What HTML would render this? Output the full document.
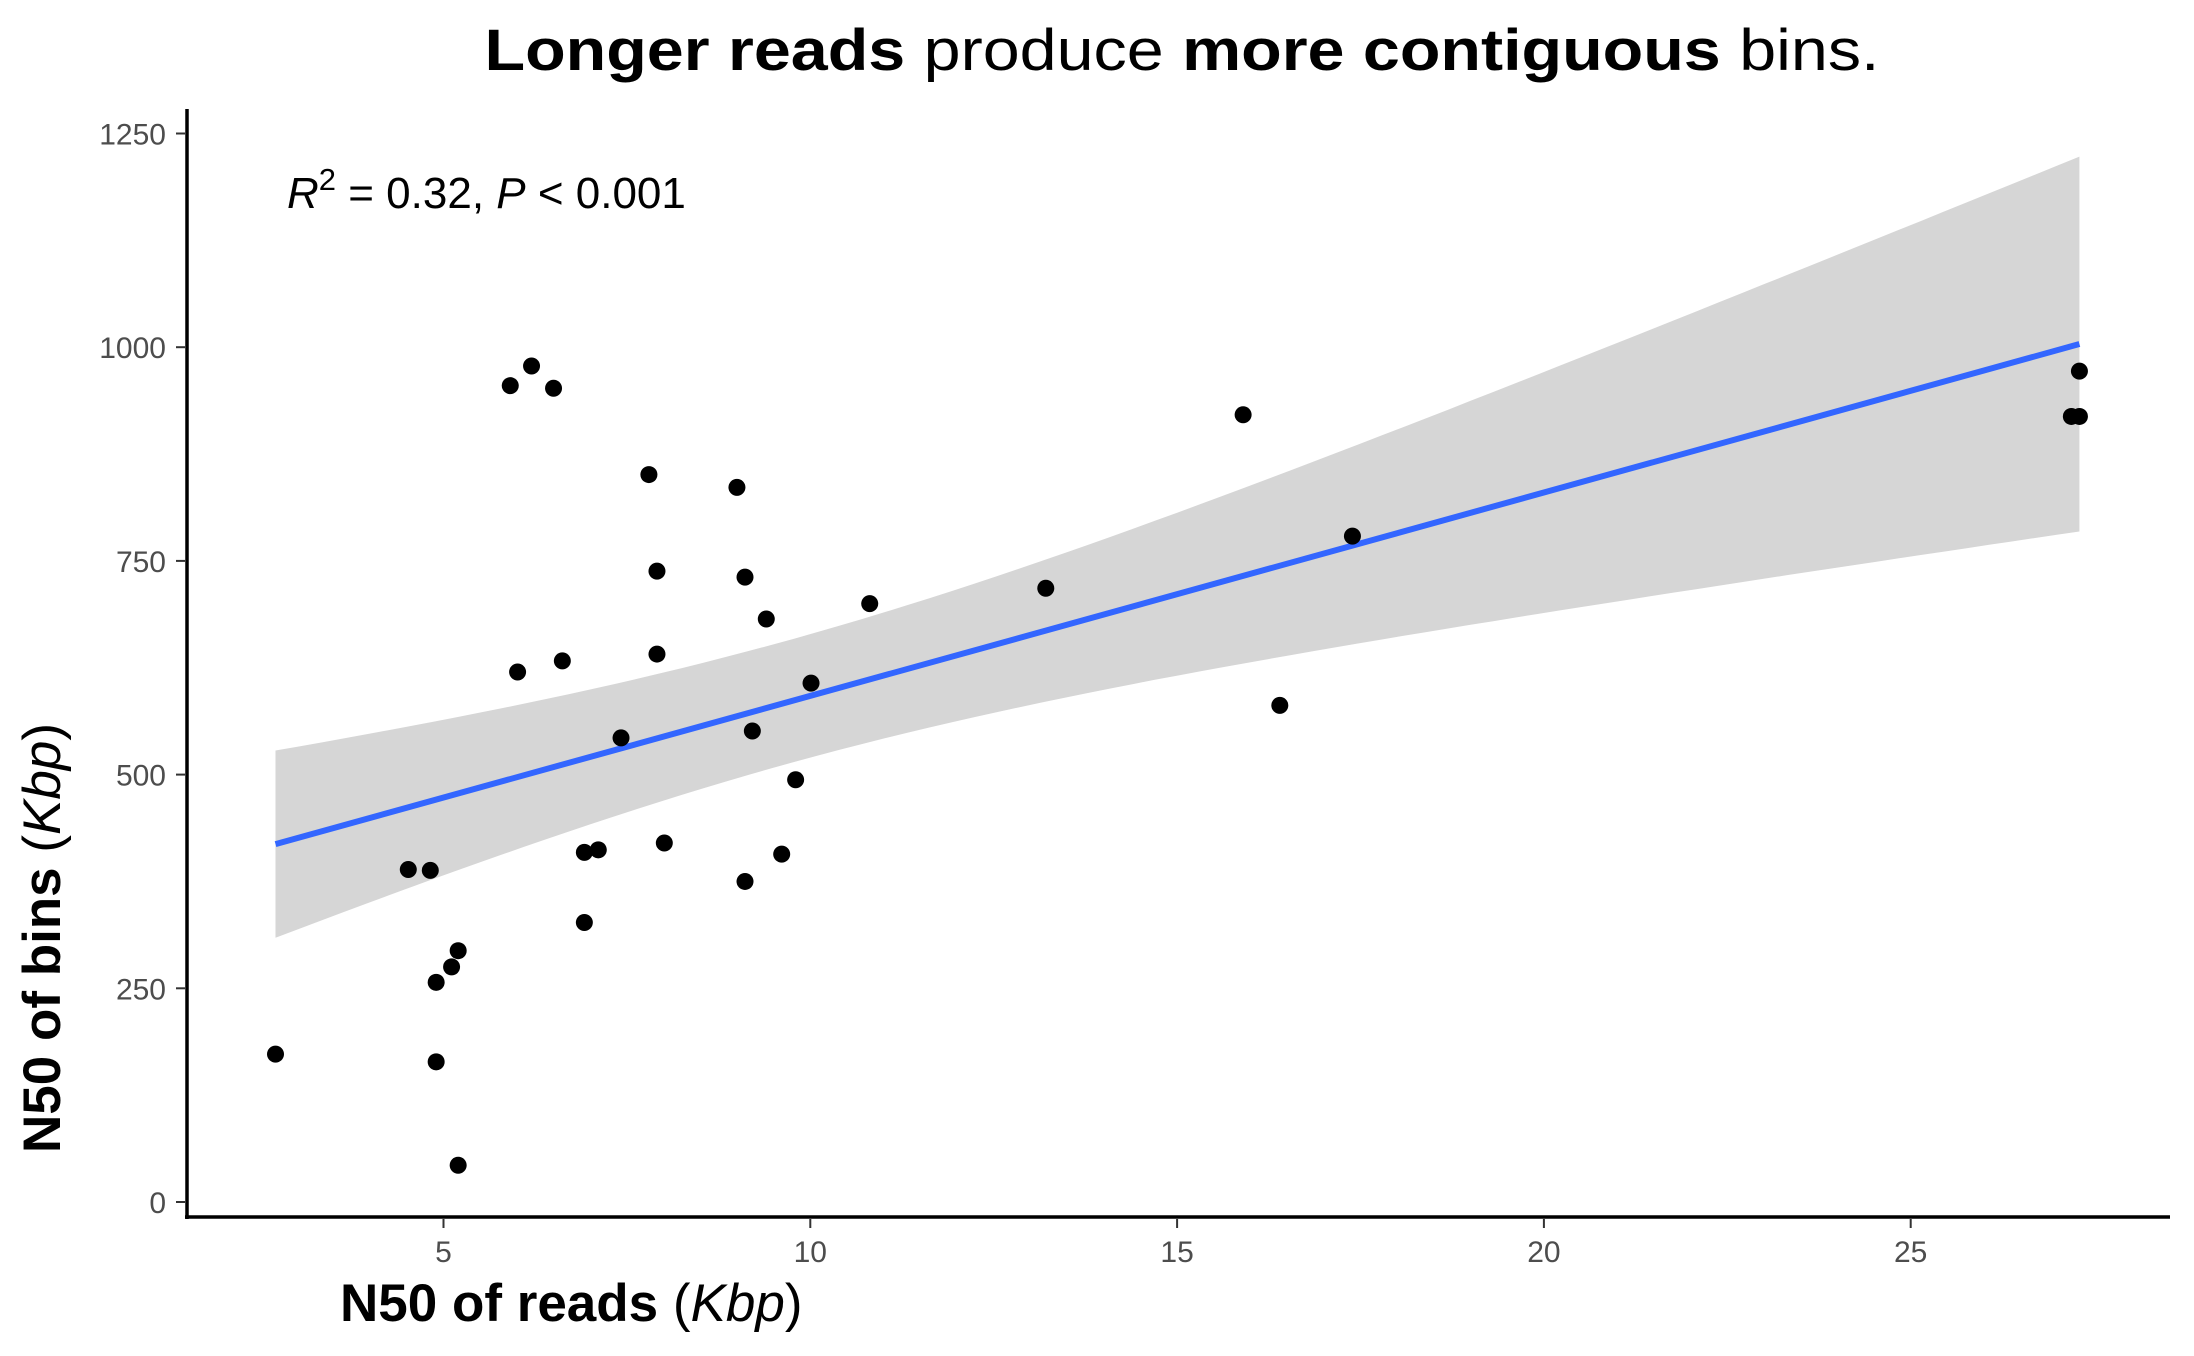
<!DOCTYPE html>
<html><head><meta charset="utf-8"><style>
html,body{margin:0;padding:0;background:#fff;}
svg{display:block;font-family:"Liberation Sans",sans-serif;}
</style></head><body>
<svg id="chart" width="2194" height="1356" viewBox="0 0 2194 1356">
<text x="1182" y="70" text-anchor="middle" font-size="58" textLength="1395" lengthAdjust="spacingAndGlyphs"><tspan font-weight="bold">Longer reads</tspan> produce <tspan font-weight="bold">more contiguous</tspan> bins.</text>
<g id="band"></g>
<g id="line"></g>
<g id="pts"></g>
<g id="axes"></g>
<text x="287" y="208" font-size="44"><tspan font-style="italic">R</tspan><tspan dy="-18" font-size="31">2</tspan><tspan dy="18"> = 0.32, </tspan><tspan font-style="italic">P</tspan> &lt; 0.001</text>
<text x="340" y="1321" font-size="53" font-weight="bold">N50 of reads <tspan font-weight="normal">(</tspan><tspan font-weight="normal" font-style="italic">Kbp</tspan><tspan font-weight="normal">)</tspan></text>
<text transform="translate(60,938) rotate(-90)" text-anchor="middle" font-size="53" font-weight="bold">N50 of bins <tspan font-weight="normal">(</tspan><tspan font-weight="normal" font-style="italic">Kbp</tspan><tspan font-weight="normal">)</tspan></text>
</svg>
<script>
const readsN50 = [2.71,4.52,4.82,4.90,4.90,5.11,5.20,5.20,5.91,6.20,6.50,6.01,6.62,6.92,7.11,6.92,7.42,7.80,7.91,7.91,8.01,9.00,9.11,9.11,9.21,9.40,9.61,9.80,10.01,10.81,13.21,15.90,16.40,17.39,27.19,27.30,27.30];
const binsN50 = [173,389,388,257,164,275,294,43,955,978,952,620,633,409,412,327,543,851,738,641,420,836,731,375,551,682,407,494,607,700,718,921,581,779,919,919,972];
const xTicks = [5,10,15,20,25];
const yTicks = [0,250,500,750,1000,1250];

const NS = "http://www.w3.org/2000/svg";
const X = v => 76.7 + v * 73.36;
const Y = v => 1202 - v * 0.8548;
function mk(tag, attrs, parent){const e=document.createElementNS(NS,tag);for(const k in attrs)e.setAttribute(k,attrs[k]);document.getElementById(parent).appendChild(e);return e;}

const n = readsN50.length;
const mx = readsN50.reduce((a,b)=>a+b,0)/n, my = binsN50.reduce((a,b)=>a+b,0)/n;
let sxx=0, sxy=0;
for(let i=0;i<n;i++){sxx+=(readsN50[i]-mx)**2; sxy+=(readsN50[i]-mx)*(binsN50[i]-my);}
const b1 = sxy/sxx, b0 = my - b1*mx;
let sse=0; for(let i=0;i<n;i++){sse+=(binsN50[i]-b0-b1*readsN50[i])**2;}
const s = Math.sqrt(sse/(n-2)), tq = 2.03;
const xmin = Math.min(...readsN50), xmax = Math.max(...readsN50);
const up=[], lo=[];
for(let k=0;k<=80;k++){
  const x = xmin + (xmax-xmin)*k/80;
  const f = b0+b1*x, se = s*Math.sqrt(1/n + (x-mx)**2/sxx);
  up.push(X(x).toFixed(1)+","+Y(f+tq*se).toFixed(1));
  lo.unshift(X(x).toFixed(1)+","+Y(f-tq*se).toFixed(1));
}
const band = mk("polygon",{points:up.concat(lo).join(" "),fill:"#d6d6d6"},"band");


const ln = mk("line",{x1:X(xmin),y1:Y(b0+b1*xmin),x2:X(xmax),y2:Y(b0+b1*xmax),stroke:"#3366ff","stroke-width":6},"line");



for(let i=0;i<n;i++){
  const c = mk("circle",{cx:X(readsN50[i]),cy:Y(binsN50[i]),r:8.5,fill:"#000"},"pts");
  
  
}

const ya = mk("line",{x1:187,y1:109,x2:187,y2:1219,stroke:"#000","stroke-width":3.5},"axes");


const xa = mk("line",{x1:185,y1:1217,x2:2170,y2:1217,stroke:"#000","stroke-width":3.5},"axes");


xTicks.forEach(t=>{
  const tk = mk("line",{x1:X(t),y1:1219,x2:X(t),y2:1228,stroke:"#333","stroke-width":2},"axes");
  
  
  const tl = mk("text",{x:X(t),y:1262,"text-anchor":"middle","font-size":30,fill:"#4d4d4d"},"axes");
  tl.textContent = t;
  
  
});
yTicks.forEach(t=>{
  const tk = mk("line",{x1:176,y1:Y(t),x2:185,y2:Y(t),stroke:"#333","stroke-width":2},"axes");
  
  
  const tl = mk("text",{x:166,y:Y(t)+11,"text-anchor":"end","font-size":30,fill:"#4d4d4d"},"axes");
  tl.textContent = t;
  
  
});
</script>
</body></html>
